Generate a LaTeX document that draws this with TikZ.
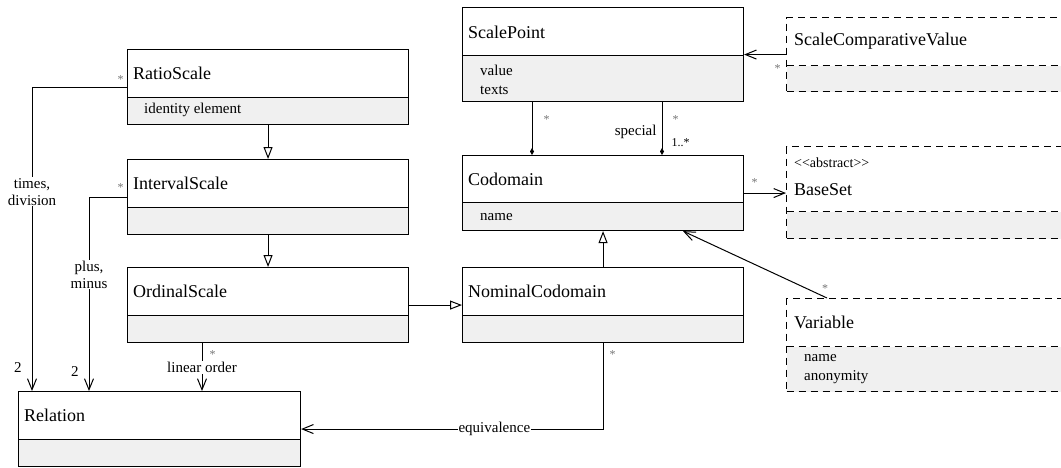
\documentclass[tikz,border=0pt]{standalone}
\usepackage{fontspec}
\setmainfont{Liberation Serif}
\usetikzlibrary{arrows.meta,positioning}

\begin{document}
\begin{tikzpicture}[x=1pt,y=-1pt,
  cls/.style={draw,line width=1.1pt,fill=white,inner sep=0pt,anchor=north west},
  dcls/.style={cls,dash pattern=on 7pt off 5pt},
  body/.style={path picture={
    \fill[attrgray] (path picture bounding box.south west) rectangle ([yshift=#1]path picture bounding box.south east);
    \draw[line width=1.1pt] ([yshift=#1]path picture bounding box.south west) -- ([yshift=#1]path picture bounding box.south east);}},
  dbody/.style={path picture={
    \fill[attrgray] (path picture bounding box.south west) rectangle ([yshift=#1]path picture bounding box.south east);
    \draw[line width=1.1pt,dash pattern=on 7pt off 5pt] ([yshift=#1]path picture bounding box.south west) -- ([yshift=#1]path picture bounding box.south east);}},
  title/.style={anchor=west,inner sep=0pt,font=\fontsize{18}{21}\selectfont},
  attr/.style={anchor=west,inner sep=0pt,align=left,font=\fontsize{15}{19}\selectfont},
  gen/.style={line width=1pt,-{Triangle[open,length=12pt,width=9pt,fill=white]}},
  assoc/.style={line width=1pt,-{Straight Barb[length=11pt,width=9pt]}},
  comp/.style={line width=1pt,-{Diamond[length=7pt,width=4pt]}},
  lbl/.style={fill=white,inner sep=1pt,align=center,font=\fontsize{15}{17}\selectfont},
  mult/.style={inner sep=0pt,text=multgray,font=\fontsize{12}{12}\selectfont},
  num/.style={inner sep=0pt,font=\fontsize{15}{15}\selectfont}]

\definecolor{attrgray}{rgb}{0.94,0.94,0.94}
\definecolor{multgray}{rgb}{0.45,0.45,0.45}

\useasboundingbox (0,0) rectangle (1061,467);
\clip (0,0) rectangle (1061,467);

% classes
\node[cls,body=27pt,minimum width=281pt,minimum height=75pt] (ratio) at (127,49) {};
\node[title] (ratio-t) at (133,73) {RatioScale};
\node[attr] (ratio-a) at (144,110) {identity element};

\node[cls,body=27pt,minimum width=281pt,minimum height=75pt] (interval) at (127,159) {};
\node[title] (interval-t) at (133,183) {IntervalScale};

\node[cls,body=27pt,minimum width=281pt,minimum height=75pt] (ordinal) at (127,267) {};
\node[title] (ordinal-t) at (133,291) {OrdinalScale};

\node[cls,body=27pt,minimum width=282pt,minimum height=75pt] (relation) at (18,391) {};
\node[title] (relation-t) at (24,415) {Relation};

\node[cls,body=46pt,minimum width=281pt,minimum height=94pt] (scalepoint) at (462,7) {};
\node[title] (scalepoint-t) at (468,32) {ScalePoint};
\node[attr] (scalepoint-a) at (480,79.5) {value\\texts};

\node[cls,body=28pt,minimum width=281pt,minimum height=75pt] (codomain) at (462,155) {};
\node[title] (codomain-t) at (468,179) {Codomain};
\node[attr] (codomain-a) at (480,217) {name};

\node[cls,body=27pt,minimum width=281pt,minimum height=75pt] (nominal) at (462,267) {};
\node[title] (nominal-t) at (468,291) {NominalCodomain};

\node[dcls,dbody=26pt,minimum width=320pt,minimum height=74pt] (scv) at (786,17) {};
\node[title] (scv-t) at (794,41) {ScaleComparativeValue};

\node[dcls,dbody=27pt,minimum width=320pt,minimum height=92pt] (baseset) at (786,146) {};
\node[attr,font=\fontsize{14}{14}\selectfont] (baseset-s) at (794,163) {<\kern0pt<abstract>\kern0pt>};
\node[title] (baseset-t) at (794,190) {BaseSet};

\node[dcls,dbody=45pt,minimum width=320pt,minimum height=93pt] (variable) at (786,298) {};
\node[title] (variable-t) at (794,322) {Variable};
\node[attr] (variable-a) at (804,369.5) {name\\anonymity};

% generalizations
\draw[gen] (ratio.south) -- (interval.north);
\draw[gen] (interval.south) -- (ordinal.north);
\draw[gen] (ordinal.east) -- (nominal.west);
\draw[gen] (nominal.north) -- (codomain.south);

% associations
\draw[assoc] (ratio.west) -| ([xshift=14pt]relation.north west)
  node[lbl,pos=0.672] {times,\\division}
  node[mult,pos=0,above left=3pt and 3pt] {*}
  node[num,pos=1,above left=18pt and 10pt] {2};
\draw[assoc] (interval.west) -| ([xshift=71pt]relation.north west)
  node[lbl,pos=0.70] {plus,\\minus}
  node[mult,pos=0,above left=5pt and 3pt] {*}
  node[num,pos=1,above left=14pt and 10pt] {2};
\draw[assoc] ([xshift=75pt]ordinal.south west) -- ([xshift=184pt]relation.north west)
  node[lbl,pos=0.51] {linear order}
  node[mult,pos=0,below right=7pt and 7pt] {*};
\draw[assoc] (nominal.south) |- (relation.east)
  node[lbl,pos=0.68] {equivalence}
  node[mult,pos=0,below right=7pt and 6pt] {*};

\draw[comp] ([xshift=70pt]scalepoint.south west) -- ([xshift=70pt]codomain.north west)
  node[mult,pos=0,below right=13pt and 11pt] {*};
\draw[comp] ([xshift=200pt]scalepoint.south west) -- ([xshift=200pt]codomain.north west)
  node[mult,pos=0,below right=13pt and 10pt] {*}
  node[lbl,fill=none,pos=0.555,left=4pt] {special}
  node[num,font=\fontsize{12}{12}\selectfont,pos=1,above right=8pt and 9pt] {1..*};

\draw[assoc] (scv.west) -- (scalepoint.east)
  node[mult,pos=0,below left=10pt and 5pt] {*};
\draw[assoc] (codomain.east) -- (codomain.east -| baseset.west)
  node[mult,pos=0,above right=6pt and 7pt] {*};
\draw[assoc] ([xshift=41pt]variable.north west) -- ([xshift=221pt]codomain.south west)
  node[mult,pos=0,above=5pt,xshift=-2pt] {*};

\end{tikzpicture}
\end{document}
